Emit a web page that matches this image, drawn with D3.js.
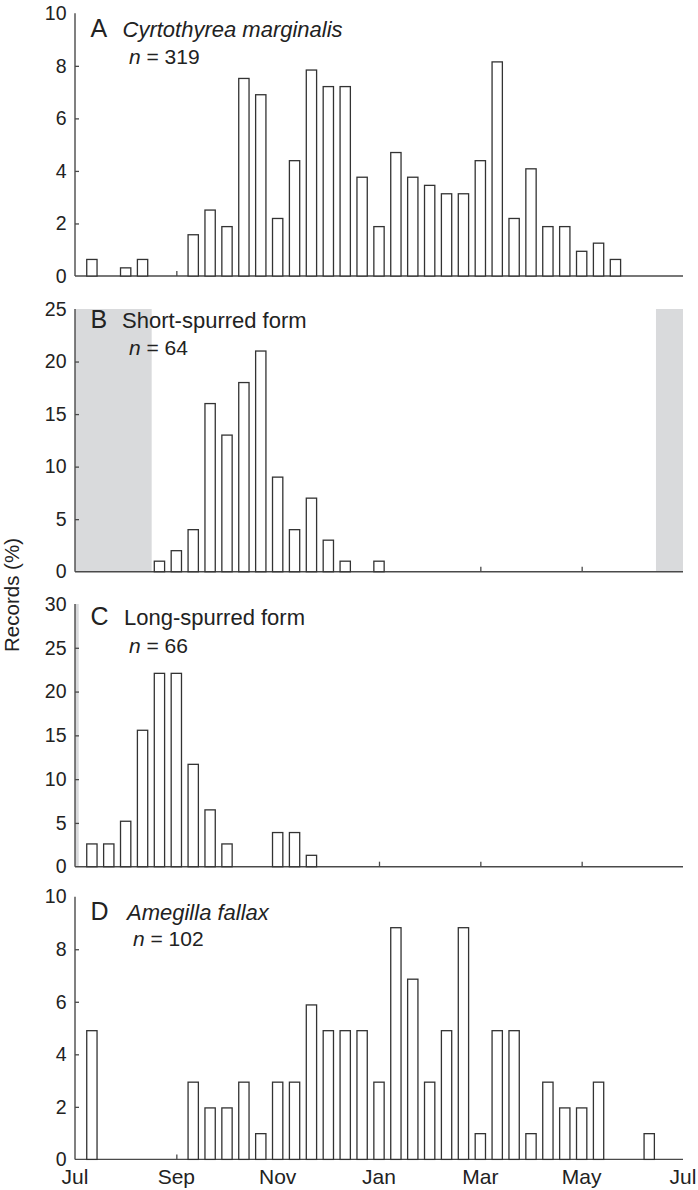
<!DOCTYPE html>
<html>
<head>
<meta charset="utf-8">
<script src="https://cdn.jsdelivr.net/npm/d3@7"></script>
<style>
  html, body { margin: 0; padding: 0; background: #fff; }
  svg { display: block; font-family: "Liberation Sans", Arial, Helvetica, sans-serif; }
</style>
</head>
<body>
<svg id="chart" width="698" height="1190"></svg>
<script>
// ---- data: ten-day bins, position k = index + 1 (k from 1 to 35) ----
const monthLabels = ["Jul", "Sep", "Nov", "Jan", "Mar", "May", "Jul"];

const valuesA = [0.63, 0, 0.31, 0.63, 0, 0, 1.57, 2.51, 1.88, 7.52, 6.90, 2.19, 4.39, 7.84, 7.21, 7.21,
  3.76, 1.88, 4.70, 3.76, 3.45, 3.13, 3.13, 4.39, 8.15, 2.19, 4.08, 1.88, 1.88, 0.94, 1.25, 0.63, 0, 0, 0];
const valuesB = [0, 0, 0, 0, 1, 2, 4, 16, 13, 18, 21, 9, 4, 7, 3, 1, 0, 1, 0, 0, 0, 0, 0, 0, 0, 0, 0, 0,
  0, 0, 0, 0, 0, 0, 0];
const valuesC = [2.60, 2.60, 5.19, 15.58, 22.08, 22.08, 11.69, 6.49, 2.60, 0, 0, 3.90, 3.90, 1.30, 0, 0,
  0, 0, 0, 0, 0, 0, 0, 0, 0, 0, 0, 0, 0, 0, 0, 0, 0, 0, 0];
const valuesD = [4.90, 0, 0, 0, 0, 0, 2.94, 1.96, 1.96, 2.94, 0.98, 2.94, 2.94, 5.88, 4.90, 4.90, 4.90,
  2.94, 8.82, 6.86, 2.94, 4.90, 8.82, 0.98, 4.90, 4.90, 0.98, 2.94, 1.96, 1.96, 2.94, 0, 0, 0.98, 0];

const ticksA = [0, 2, 4, 6, 8, 10];
const ticksB = [0, 5, 10, 15, 20, 25];
const ticksC = [0, 5, 10, 15, 20, 25, 30];
const ticksD = [0, 2, 4, 6, 8, 10];

const letters = ["A", "B", "C", "D"];
const titles = ["Cyrtothyrea marginalis", "Short-spurred form", "Long-spurred form", "Amegilla fallax"];
const titleItalic = [true, false, false, true];
const sampleSizes = [319, 64, 66, 102];

// grey shaded periods, in ten-day-bin units (0 = 1 Jul, 36 = 1 Jul next year)
const shadeA = [];
const shadeB = [[0, 4.54], [34.4, 36]];
const shadeC = [[0, 0.22]];
const shadeD = [];

// ---- layout ----
const svg = d3.select("#chart");
const left = 75, right = 683;
const panelTops = [13.3, 309, 604, 896.7];
const panelH = 262.7;
const axisColor = "#4a4a4a";
const textColor = "#222";

const x = d3.scaleLinear().domain([0, 36]).range([left, right]);
const binW = x(1) - x(0);
const barW = binW * 0.61;

const panels = [
  { values: valuesA, ticks: ticksA, shade: shadeA, titleY: 23.4, nY: 51, titleX: 122.5, nX: 129 },
  { values: valuesB, ticks: ticksB, shade: shadeB, titleY: 19, nY: 46, titleX: 122, nX: 129 },
  { values: valuesC, ticks: ticksC, shade: shadeC, titleY: 21, nY: 48.7, titleX: 124, nX: 129 },
  { values: valuesD, ticks: ticksD, shade: shadeD, titleY: 23.3, nY: 49.3, titleX: 127, nX: 133 }
];

panels.forEach((p, i) => {
  const top = panelTops[i], bottom = top + panelH;
  const ymax = p.ticks[p.ticks.length - 1];
  const y = d3.scaleLinear().domain([0, ymax]).range([bottom, top]);
  const g = svg.append("g");

  // shading
  g.selectAll("rect.shade").data(p.shade).join("rect")
    .attr("class", "shade")
    .attr("x", d => x(d[0]))
    .attr("width", d => x(d[1]) - x(d[0]))
    .attr("y", y(ymax))
    .attr("height", y(0) - y(ymax))
    .attr("fill", "#d9dadc");

  // x axis (ticks point inward)
  const xAxis = d3.axisBottom(x)
    .tickValues(d3.range(6, 36, 6))
    .tickSize(-5)
    .tickFormat("");
  const gx = g.append("g").attr("transform", `translate(0,${bottom})`).call(xAxis);
  gx.select(".domain").attr("d", `M${left},0H${right}`).attr("stroke", axisColor).attr("stroke-width", 1.4);
  gx.selectAll(".tick line").attr("stroke", axisColor).attr("stroke-width", 1.3);

  // bars
  const data = p.values.map((v, j) => ({ k: j + 1, v })).filter(d => d.v > 0);
  g.selectAll("rect.bar").data(data).join("rect")
    .attr("class", "bar")
    .attr("x", d => x(d.k) - barW / 2)
    .attr("width", barW)
    .attr("y", d => y(d.v))
    .attr("height", d => y(0) - y(d.v))
    .attr("fill", "#fff")
    .attr("stroke", "#333")
    .attr("stroke-width", 1.3);

  // y axis
  const yAxis = d3.axisLeft(y).tickValues(p.ticks).tickSize(-4).tickPadding(8.5).tickFormat(d3.format("d"));
  const gy = g.append("g").attr("transform", `translate(${left},0)`).call(yAxis);
  gy.select(".domain").attr("d", `M0,${bottom}V${top}`).attr("stroke", axisColor).attr("stroke-width", 1.4);
  gy.selectAll(".tick line").attr("stroke", axisColor).attr("stroke-width", 1.3)
    .filter(d => d === 0 || d === ymax).remove();
  gy.selectAll(".tick text").attr("font-size", 19.5).attr("fill", textColor)
    .attr("font-family", "'Liberation Sans', Arial, sans-serif");

  // x labels on bottom panel only
  if (i === 3) {
    const lab = g.append("g");
    lab.selectAll("text").data(monthLabels).join("text")
      .attr("x", (d, j) => x(j * 6))
      .attr("y", bottom + 24.5)
      .attr("text-anchor", "middle")
      .attr("font-size", 21)
      .attr("fill", textColor)
      .text(d => d);
  }

  // titles
  g.append("text").attr("x", 90.5).attr("y", top + p.titleY).attr("fill", textColor)
    .attr("font-size", 25).text(letters[i]);
  g.append("text").attr("x", p.titleX).attr("y", top + p.titleY).attr("fill", textColor)
    .attr("font-size", 22)
    .attr("font-style", titleItalic[i] ? "italic" : "normal").text(titles[i]);
  const n = g.append("text").attr("x", p.nX).attr("y", top + p.nY).attr("fill", textColor).attr("font-size", 21);
  n.append("tspan").attr("font-style", "italic").text("n");
  n.append("tspan").text(" = " + sampleSizes[i]);
});

// y axis label
svg.append("text")
  .attr("transform", "translate(19,595) rotate(-90)")
  .attr("text-anchor", "middle")
  .attr("font-size", 20.5)
  .attr("fill", textColor)
  .text("Records (%)");
</script>
</body>
</html>
